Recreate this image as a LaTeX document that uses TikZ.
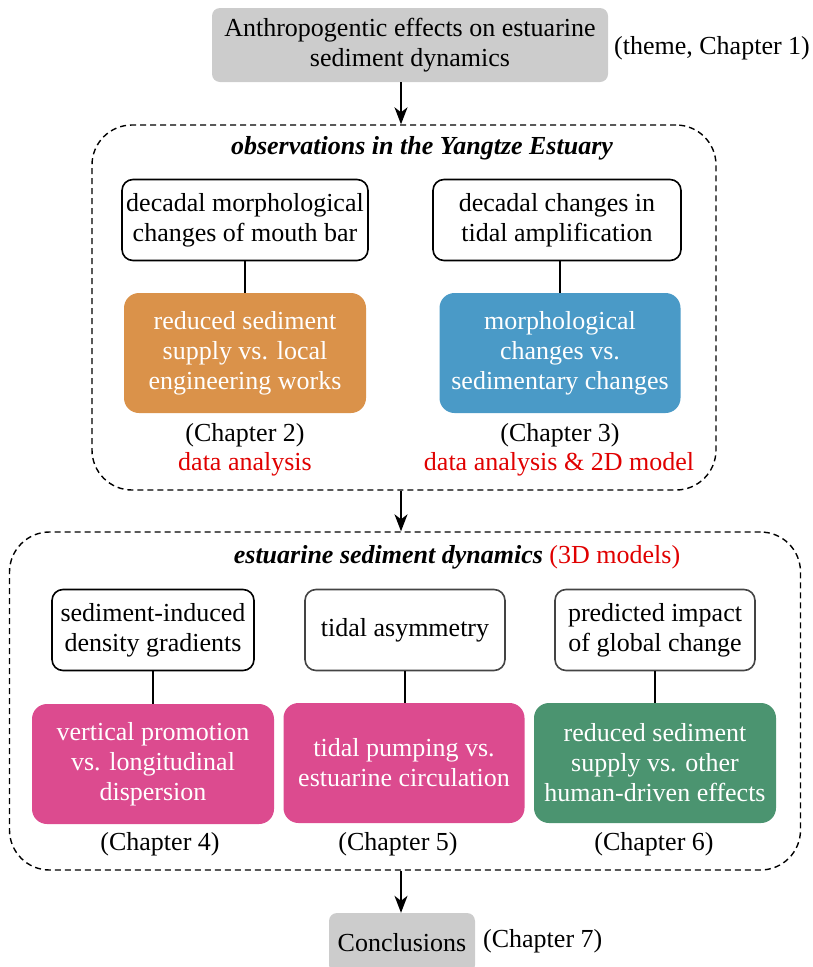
\documentclass[tikz,border=0pt]{standalone}
\usepackage{fontspec}
\setmainfont{Liberation Serif}
\usetikzlibrary{arrows.meta,positioning}
\definecolor{ThGray}{HTML}{CCCCCC}
\definecolor{ThOrange}{HTML}{DA924A}
\definecolor{ThBlue}{HTML}{4A9AC7}
\definecolor{ThPink}{HTML}{DC4B8F}
\definecolor{ThGreen}{HTML}{4B9470}
\definecolor{ThRed}{HTML}{E00000}
\definecolor{ThDark}{HTML}{444444}
\newcommand{\thsize}{\fontsize{26}{30}\selectfont}
\tikzset{
  themebox/.style={fill=ThGray,rounded corners=8pt,align=center,inner sep=0pt},
  topicbox/.style={draw=black,line width=1.6pt,fill=white,rounded corners=11pt,align=center,minimum height=81pt,minimum width=200pt,inner sep=0pt},
  resultbox/.style={rounded corners=15pt,align=center,text=white,minimum height=120pt,minimum width=242pt,inner sep=0pt},
  groupbox/.style={draw=black,line width=1.4pt,dash pattern=on 6pt off 4pt,rounded corners=40pt,inner sep=0pt},
  flowarrow/.style={-{Stealth[length=17pt,width=13pt,inset=5pt]},line width=1.6pt},
  stemline/.style={line width=1.6pt},
  chaplabel/.style={inner sep=0pt},
  methodlabel/.style={text=ThRed,inner sep=0pt},
  grouptitle/.style={inner sep=0pt,font=\thsize\bfseries\itshape}
}

\begin{document}
\begin{tikzpicture}[x=1pt,y=-1pt,font=\thsize]
\useasboundingbox (0,0) rectangle (812,967);
\clip (0,0) rectangle (812,967);
\coordinate (spine) at (401,0);

% theme
\node[themebox,minimum width=396pt,minimum height=74pt] (theme) at (410,45) {Anthropogentic effects on estuarine\\sediment dynamics};
\node[chaplabel,anchor=west] (themech) at (614,48) {(theme, Chapter 1)};

% observations
\node[groupbox,minimum width=624pt,minimum height=365pt] (obs) at (404,307.5) {};
\node[grouptitle] (obstitle) at (422,148) {observations in the Yangtze Estuary};
\node[topicbox,minimum width=246pt] (mouthbar) at (245,220) {decadal morphological\\changes of mouth bar};
\node[topicbox,minimum width=248pt] (tidalamp) at (557,220) {decadal changes in\\tidal amplification};
\node[resultbox,fill=ThOrange] (supply) at (245,353) {reduced sediment\\supply vs. local\\engineering works};
\node[resultbox,fill=ThBlue,minimum width=241pt] (sedchange) at (560,353) {morphological\\changes vs.\\sedimentary changes};
\node[chaplabel] (ch2) at (245,435) {(Chapter 2)};
\node[methodlabel] (m2) at (245,464) {data analysis};
\node[chaplabel] (ch3) at (560,435) {(Chapter 3)};
\node[methodlabel] (m3) at (559,464) {data analysis \& 2D model};
\draw[stemline] (mouthbar.south -| supply) -- (supply.north);
\draw[stemline] (tidalamp.south -| sedchange) -- (sedchange.north);

% 3D models
\node[groupbox,minimum width=791pt,minimum height=338pt] (dyn) at (405,701) {};
\node[grouptitle] (dyntitle) at (457,557) {estuarine sediment dynamics \textcolor{ThRed}{\mdseries\upshape(3D models)}};
\node[topicbox,minimum width=202pt] (density) at (153,630) {sediment-induced\\density gradients};
\node[topicbox,draw=ThDark,minimum width=200pt] (asym) at (405,630) {tidal asymmetry};
\node[topicbox,draw=ThDark,minimum width=200pt] (impact) at (655,630) {predicted impact\\of global change};
\node[resultbox,fill=ThPink] (vertical) at (153,764) {vertical promotion\\vs. longitudinal\\dispersion};
\node[resultbox,fill=ThPink,minimum width=241pt] (pumping) at (404,763) {tidal pumping vs.\\estuarine circulation};
\node[resultbox,fill=ThGreen] (other) at (655,763) {reduced sediment\\supply vs. other\\human-driven effects};
\node[chaplabel] (ch4) at (160,844) {(Chapter 4)};
\node[chaplabel] (ch5) at (398,844) {(Chapter 5)};
\node[chaplabel] (ch6) at (654,844) {(Chapter 6)};
\draw[stemline] (density.south) -- (vertical.north -| density);
\draw[stemline] (asym.south) -- (pumping.north -| asym);
\draw[stemline] (impact.south) -- (other.north -| impact);

% conclusions
\node[themebox,minimum width=146pt,minimum height=60pt] (concl) at (402,943) {Conclusions};
\node[chaplabel,anchor=west] (ch7) at (483,941) {(Chapter 7)};

\draw[flowarrow] (theme.south -| spine) -- (obs.north -| spine);
\draw[flowarrow] (obs.south -| spine) -- (dyn.north -| spine);
\draw[flowarrow] (dyn.south -| spine) -- (concl.north -| spine);
\end{tikzpicture}
\end{document}
